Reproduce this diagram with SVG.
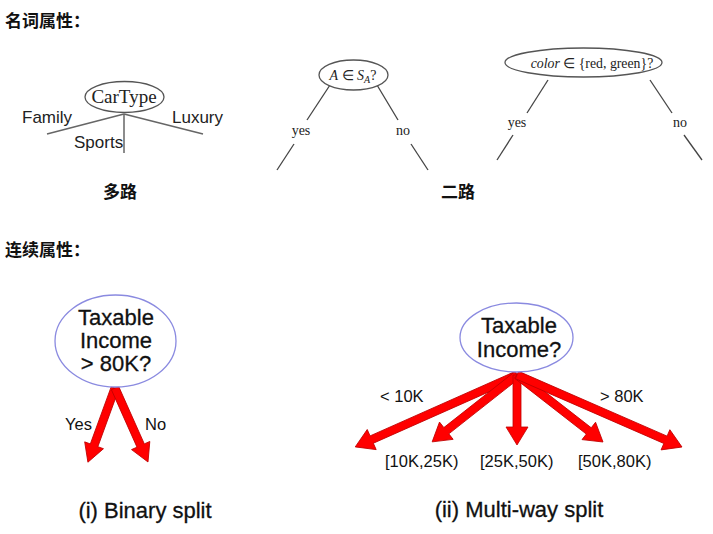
<svg xmlns="http://www.w3.org/2000/svg" width="713" height="534" viewBox="0 0 713 534">
<style>
.h{font-family:"Noto Sans CJK SC",sans-serif;font-weight:bold;font-size:17px;fill:#111}
.ser{font-family:"Liberation Serif",serif;fill:#222}
.sans{font-family:"Liberation Sans",Arial,sans-serif;fill:#222}
.big{font-family:"Liberation Sans",Arial,sans-serif;font-size:22px;fill:#111;text-anchor:middle;stroke:#111;stroke-width:0.3}
.lbl{font-family:"Liberation Sans",Arial,sans-serif;font-size:16.5px;fill:#111}
.gl{stroke:#666;stroke-width:1.5;fill:none}
.bl{stroke:#444;stroke-width:1.3;fill:none}
.oe{fill:#fff;stroke:#555;stroke-width:1.3}
.be{fill:#fff;stroke:#8a8ae0;stroke-width:1.3}
.arr{fill:#f00;stroke:#c00000;stroke-width:0.8;stroke-linejoin:miter}
</style>

<text class="h" x="5" y="27">名词属性：</text>
<text class="h" x="5" y="256">连续属性：</text>
<text class="h" x="120" y="198" text-anchor="middle">多路</text>
<text class="h" x="458" y="198" text-anchor="middle">二路</text>

<g id="connectors">
  <line class="gl" x1="124" y1="114" x2="47" y2="134"/>
  <line class="gl" x1="124" y1="114" x2="203" y2="134"/>
  <line class="gl" x1="124" y1="114" x2="124" y2="153"/>
  <line class="bl" x1="330" y1="85" x2="307" y2="120"/>
  <line class="bl" x1="294" y1="144" x2="277" y2="170"/>
  <line class="bl" x1="377" y1="85" x2="398" y2="120"/>
  <line class="bl" x1="411" y1="144" x2="428" y2="170"/>
  <line class="bl" x1="548" y1="80" x2="527" y2="113"/>
  <line class="bl" x1="513" y1="135" x2="497" y2="160"/>
  <line class="bl" x1="650" y1="80" x2="672" y2="113"/>
  <line class="bl" x1="684" y1="135" x2="702" y2="160"/>
  <path class="arr" transform="translate(115,388) rotate(110.05)" d="M0,-4 L61,-4 L61,-10 L79,0 L61,10 L61,4 L0,4 Z"/>
  <path class="arr" transform="translate(115,388) rotate(65.96)" d="M0,-4 L63,-4 L63,-10 L81,0 L63,10 L63,4 L0,4 Z"/>
  <path class="arr" transform="translate(517,375) rotate(156.04)" d="M0,-4 L159,-4 L159,-11 L177,0 L159,11 L159,4 L0,4 Z"/>
  <path class="arr" transform="translate(517,375) rotate(141.75)" d="M0,-4 L90,-4 L90,-11 L108,0 L90,11 L90,4 L0,4 Z"/>
  <path class="arr" transform="translate(517,375) rotate(90)" d="M0,-4 L52,-4 L52,-11 L70,0 L52,11 L52,4 L0,4 Z"/>
  <path class="arr" transform="translate(517,375) rotate(37.92)" d="M0,-4 L91,-4 L91,-11 L109,0 L91,11 L91,4 L0,4 Z"/>
  <path class="arr" transform="translate(517,375) rotate(23.58)" d="M0,-4 L162,-4 L162,-11 L180,0 L162,11 L162,4 L0,4 Z"/>
</g>

<g id="cartype">
  <ellipse class="oe" cx="124.5" cy="97" rx="39.5" ry="15.5"/>
  <text class="ser" x="124" y="103" font-size="19" text-anchor="middle">CarType</text>
</g>
<text class="sans" x="22" y="123" font-size="17">Family</text>
<text class="sans" x="172" y="123" font-size="17">Luxury</text>
<text class="sans" x="74" y="148" font-size="17">Sports</text>

<g id="a-in-sa">
  <ellipse class="oe" cx="353.5" cy="75" rx="34.5" ry="15"/>
  <text class="ser" x="353" y="80" font-size="14" text-anchor="middle"><tspan font-style="italic">A</tspan> ∈ <tspan font-style="italic">S</tspan><tspan font-style="italic" font-size="10" dy="3">A</tspan><tspan dy="-3">?</tspan></text>
</g>
<text class="ser" x="301" y="135" font-size="14" text-anchor="middle">yes</text>
<text class="ser" x="403" y="135" font-size="14" text-anchor="middle">no</text>

<g id="color">
  <ellipse class="oe" cx="583.5" cy="62.5" rx="78.5" ry="14.5"/>
  <text class="ser" x="592" y="68" font-size="13.8" text-anchor="middle"><tspan font-style="italic">color</tspan> ∈ {red, green}?</text>
</g>
<text class="ser" x="517" y="127" font-size="14" text-anchor="middle">yes</text>
<text class="ser" x="680" y="127" font-size="14" text-anchor="middle">no</text>

<g id="binary">
  <ellipse class="be" cx="115.5" cy="341" rx="60.5" ry="46"/>
  <text class="big" x="116" y="325">Taxable</text>
  <text class="big" x="116" y="348">Income</text>
  <text class="big" x="116" y="371">&gt; 80K?</text>
</g>
<text class="lbl" x="65" y="430">Yes</text>
<text class="lbl" x="145" y="430">No</text>
<text class="big" x="145" y="518">(i) Binary split</text>

<g id="multi">
  <ellipse class="be" cx="516.5" cy="337.5" rx="56.5" ry="34.5"/>
  <text class="big" x="519" y="333">Taxable</text>
  <text class="big" x="519" y="357">Income?</text>
</g>
<text class="lbl" x="380" y="402">&lt; 10K</text>
<text class="lbl" x="600" y="402">&gt; 80K</text>
<text class="lbl" x="385" y="467">[10K,25K)</text>
<text class="lbl" x="480" y="467">[25K,50K)</text>
<text class="lbl" x="578" y="467">[50K,80K)</text>
<text class="big" x="519" y="517">(ii) Multi-way split</text>
</svg>
